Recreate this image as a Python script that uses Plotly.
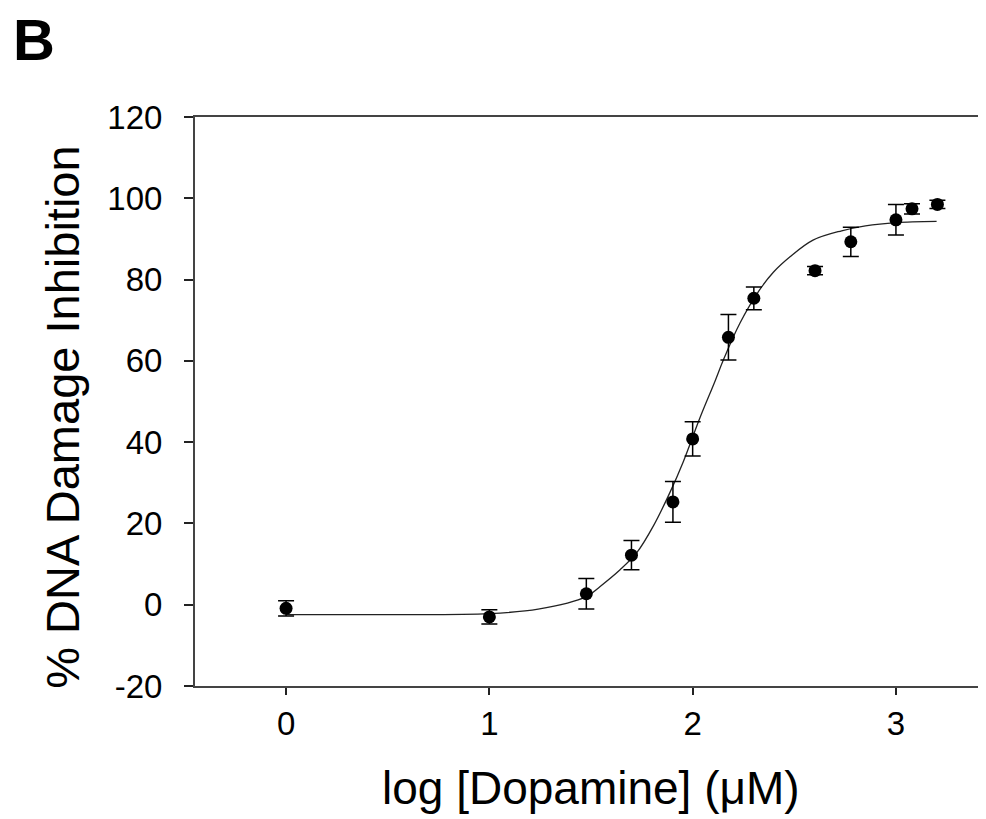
import plotly.graph_objects as go

# Data
log_dopamine = [0.0, 1.0, 1.477, 1.699, 1.903, 2.0, 2.176, 2.301, 2.602, 2.778, 3.0, 3.079, 3.204]
inhibition = [-0.9, -3.0, 2.7, 12.2, 25.3, 40.8, 65.8, 75.4, 82.2, 89.3, 94.7, 97.4, 98.5]
inhibition_err = [1.9, 1.75, 3.75, 3.6, 5.0, 4.2, 5.6, 2.8, 1.0, 3.6, 3.75, 1.25, 1.0]

# Fitted curve
fit_x = [0.0, 0.5, 1.0, 1.24, 1.477, 1.545, 1.643, 1.725, 1.807, 1.889, 1.954, 2.036,
         2.11, 2.151, 2.233, 2.33, 2.397, 2.479, 2.592, 2.733, 2.85, 3.0, 3.2]
fit_y = [-2.45, -2.45, -2.2, -1.1, 2.0, 4.5, 8.6, 12.8, 19.4, 27.7, 35.2, 46.0,
         55.0, 60.2, 69.3, 77.5, 81.8, 85.6, 89.7, 92.0, 93.2, 94.0, 94.3]

x_ticks = [0, 1, 2, 3]
y_ticks = [-20, 0, 20, 40, 60, 80, 100, 120]

FONT = "Liberation Sans, Arial, sans-serif"
AXIS_COLOR = "#444444"

fig = go.Figure()

fig.add_trace(go.Scatter(
    x=fit_x, y=fit_y, mode="lines", line=dict(color="#222222", width=1.3, shape="spline"),
    showlegend=False, hoverinfo="skip"))

fig.add_trace(go.Scatter(
    x=log_dopamine, y=inhibition, mode="markers",
    marker=dict(color="black", size=13),
    error_y=dict(type="data", array=inhibition_err, visible=True,
                 color="black", thickness=1.5, width=8),
    showlegend=False))

# the page body adds an 8 px offset, so the figure is 8 px smaller and margins shifted
fig.update_layout(
    width=978, height=811,
    margin=dict(l=187, r=0, t=109, b=133),
    paper_bgcolor="white", plot_bgcolor="white",
    font=dict(family=FONT, color="black"),
    xaxis=dict(range=[-0.448, 3.443], tickvals=x_ticks, ticktext=[str(v) for v in x_ticks],
               showgrid=False, zeroline=False, showline=True, linecolor=AXIS_COLOR, linewidth=2,
               mirror=True, ticks="outside", ticklen=7, tickwidth=1.5, tickcolor="#222222",
               tickfont=dict(size=33, family=FONT, color="black"), ticklabelstandoff=0),
    yaxis=dict(range=[-20, 120], tickvals=y_ticks, ticktext=[str(v) for v in y_ticks],
               showgrid=False, zeroline=False, showline=True, linecolor=AXIS_COLOR, linewidth=2,
               ticks="outside", ticklen=9, tickwidth=1.5, tickcolor="#222222",
               tickfont=dict(size=33, family=FONT, color="black"), ticklabelstandoff=15),
    annotations=[
        dict(text="log [Dopamine] (\u03bcM)", xref="paper", yref="paper", x=0.5, y=-0.179,
             xanchor="center", yanchor="middle", showarrow=False,
             font=dict(size=46, family=FONT, color="black")),
        dict(text="% DNA Damage Inhibition", xref="paper", yref="paper", x=-0.167, y=0.473,
             xanchor="center", yanchor="middle", textangle=-90, showarrow=False,
             font=dict(size=47, family=FONT, color="black")),
        dict(text="<b>B</b>", xref="paper", yref="paper", x=-0.232, y=1.197,
             xanchor="left", yanchor="top", showarrow=False,
             font=dict(size=58, family=FONT, color="black")),
    ],
)

fig.write_html("out.html")
